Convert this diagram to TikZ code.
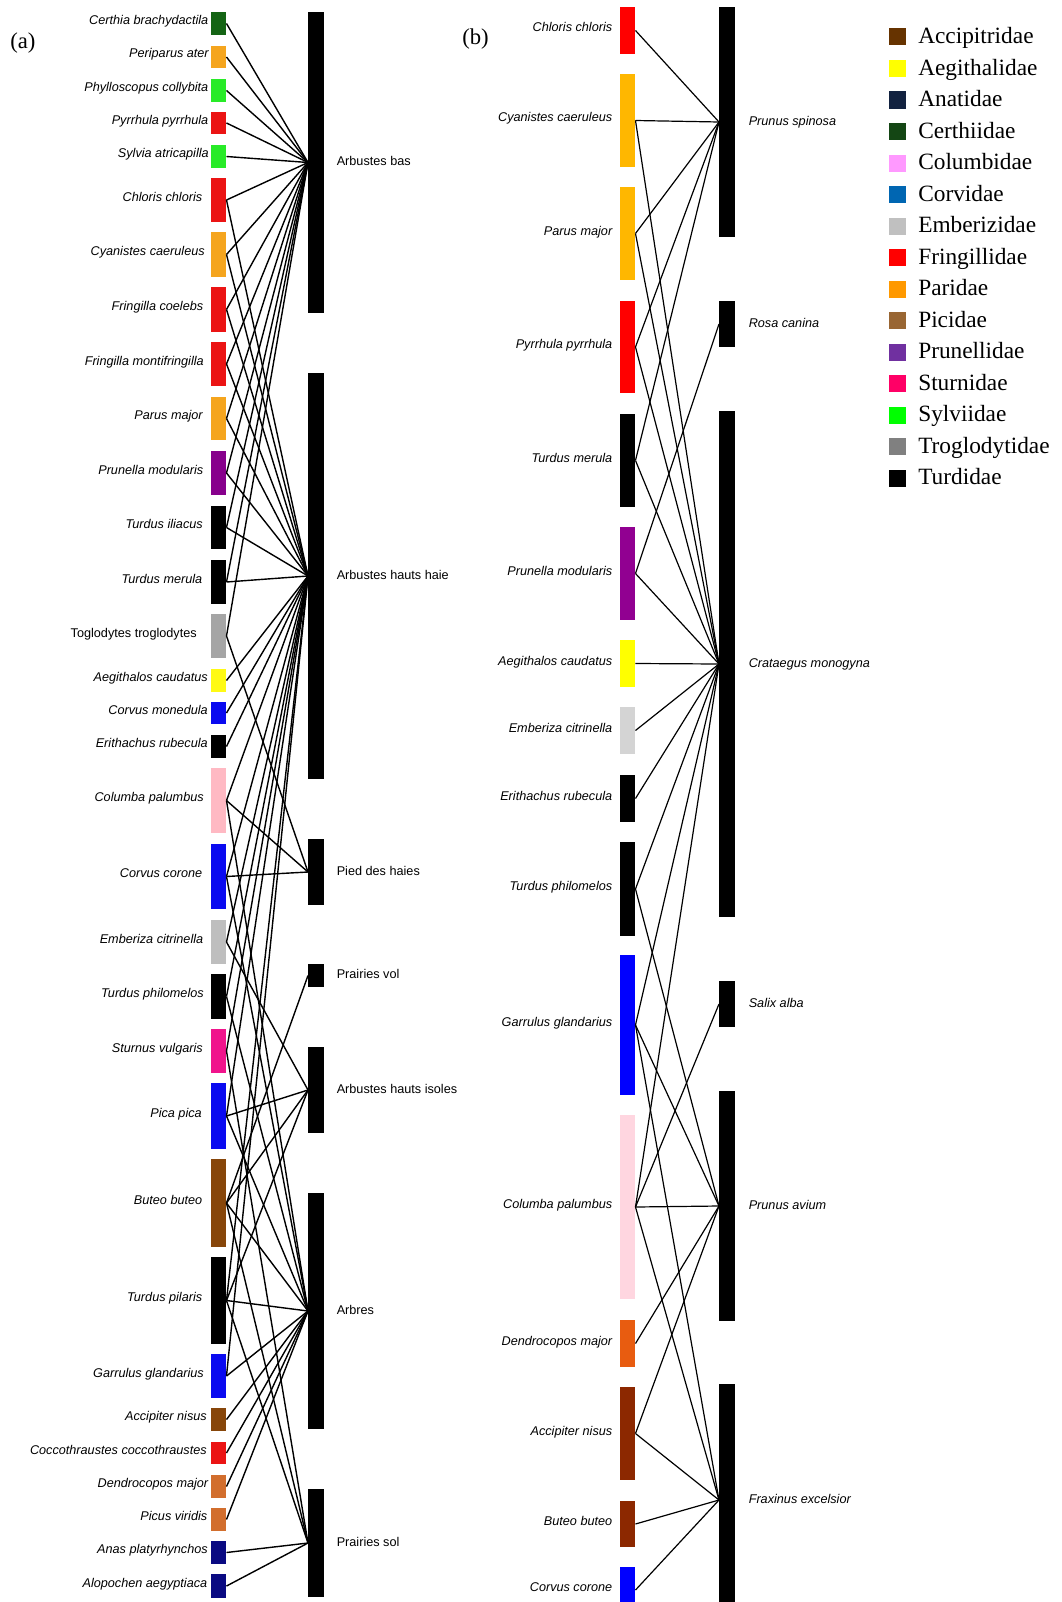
\documentclass[tikz,border=0pt]{standalone}
\usepackage{fontspec}
\setmainfont{Liberation Serif}
\newfontfamily\labfamily{Liberation Sans}
% panel (a) colours
\definecolor{dkgreenA}{RGB}{20,100,20}
\definecolor{orangeA}{RGB}{245,165,30}
\definecolor{greenA}{RGB}{40,235,40}
\definecolor{redA}{RGB}{235,20,20}
\definecolor{purpleA}{RGB}{135,0,140}
\definecolor{grayA}{RGB}{165,165,165}
\definecolor{yellowA}{RGB}{255,250,20}
\definecolor{blueA}{RGB}{10,10,240}
\definecolor{pinkA}{RGB}{255,185,195}
\definecolor{lgrayA}{RGB}{190,190,190}
\definecolor{dpinkA}{RGB}{240,20,140}
\definecolor{brownA}{RGB}{135,70,10}
\definecolor{chocA}{RGB}{210,110,45}
\definecolor{navyA}{RGB}{10,10,130}
% panel (b) colours
\definecolor{redB}{RGB}{255,0,0}
\definecolor{amberB}{RGB}{255,183,0}
\definecolor{purpleB}{RGB}{145,0,145}
\definecolor{yellowB}{RGB}{255,255,0}
\definecolor{lgrayB}{RGB}{212,212,212}
\definecolor{blueB}{RGB}{0,0,255}
\definecolor{pinkB}{RGB}{255,214,224}
\definecolor{orangeB}{RGB}{232,92,16}
\definecolor{brownB}{RGB}{140,40,0}
% legend colours
\definecolor{Lacc}{RGB}{102,51,0}
\definecolor{Laeg}{RGB}{255,255,0}
\definecolor{Lana}{RGB}{18,34,64}
\definecolor{Lcer}{RGB}{20,70,20}
\definecolor{Lcol}{RGB}{255,153,255}
\definecolor{Lcor}{RGB}{0,102,178}
\definecolor{Lemb}{RGB}{192,192,192}
\definecolor{Lfri}{RGB}{255,0,0}
\definecolor{Lpar}{RGB}{255,153,0}
\definecolor{Lpic}{RGB}{153,102,51}
\definecolor{Lpru}{RGB}{112,48,160}
\definecolor{Lstu}{RGB}{255,0,102}
\definecolor{Lsyl}{RGB}{0,255,0}
\definecolor{Ltro}{RGB}{128,128,128}
\definecolor{Ltur}{RGB}{0,0,0}

\tikzset{
  sbox/.style={rectangle,inner sep=0pt,outer sep=0pt,minimum width=11.6pt},
  hbox/.style={rectangle,fill=black,inner sep=0pt,outer sep=0pt,minimum width=12pt},
  slab/.style={inner sep=0pt,font=\labfamily\fontsize{9.5}{11}\selectfont\itshape},
  hlab/.style={inner sep=0pt,font=\labfamily\fontsize{9.5}{11}\selectfont},
  hlabb/.style={inner sep=0pt,font=\labfamily\fontsize{9.5}{11}\selectfont\itshape},
  edgeA/.style={line width=1.05pt,black},
  edgeB/.style={line width=0.9pt,black},
  legsq/.style={rectangle,inner sep=0pt,outer sep=0pt,minimum size=12.75pt},
  leglab/.style={inner sep=0pt,font=\fontsize{17.5}{20}\selectfont},
  panlab/.style={inner sep=0pt,font=\fontsize{17}{20}\selectfont},
}
% species box panel (a): id, top, bottom, colour, label x, label
\newcommand{\SpA}[6]{%
  \node[sbox,fill=#4,minimum height={(#3-#2)*0.75pt}] (#1) at (218.75,{(#2+#3)/2}) {};
  \node[slab,anchor=base east] (#1l) at (#5,{(#2+#3)/2+1}) {#6};}
% habitat box panel (a): id, top, bottom, label
\newcommand{\HabA}[4]{%
  \node[hbox,minimum height={(#3-#2)*0.75pt}] (#1) at (316,{(#2+#3)/2}) {};
  \node[hlab,anchor=base west] (#1l) at (336.5,{(#2+#3)/2+3}) {#4};}
% species box panel (b)
\newcommand{\SpB}[5]{%
  \node[sbox,fill=#4,minimum height={(#3-#2)*0.75pt}] (#1) at (627.75,{(#2+#3)/2}) {};
  \node[slab,anchor=base east] (#1l) at (612.5,{(#2+#3)/2+1.5}) {#5};}
% habitat box panel (b)
\newcommand{\HabB}[4]{%
  \node[hbox,minimum height={(#3-#2)*0.75pt}] (#1) at (727,{(#2+#3)/2}) {};
  \node[hlabb,anchor=base west] (#1l) at (748.5,{(#2+#3)/2+3}) {#4};}
% legend row: id, index, colour, label
\newcommand{\LegRow}[4]{%
  \node[legsq,fill=#3] (#1) at (897.5,{37+31.5*#2}) {};
  \node[leglab,anchor=base west] (#1l) at (918,{37+31.5*#2+6.5}) {#4};}

\begin{document}
\begin{tikzpicture}[x=0.75pt,y=-0.75pt]
\useasboundingbox (0,0) rectangle (1061,1602);
\clip (0,0) rectangle (1061,1602);

\node[panlab,anchor=base west] (pa) at (10,49) {(a)};
\node[panlab,anchor=base west] (pb) at (462,45) {(b)};

% ---------------- panel (a) ----------------
\SpA{a1}{12}{35}{dkgreenA}{208.5}{Certhia brachydactila}
\SpA{a2}{46}{68}{orangeA}{209}{Periparus ater}
\SpA{a3}{79}{102}{greenA}{208.5}{Phylloscopus collybita}
\SpA{a4}{112}{134}{redA}{208.5}{Pyrrhula pyrrhula}
\SpA{a5}{145}{168}{greenA}{209}{Sylvia atricapilla}
\SpA{a6}{178}{222}{redA}{202.5}{Chloris chloris}
\SpA{a7}{232}{277}{orangeA}{205}{Cyanistes caeruleus}
\SpA{a8}{287}{332}{redA}{203.5}{Fringilla coelebs}
\SpA{a9}{342}{386}{redA}{204}{Fringilla montifringilla}
\SpA{a10}{397}{440}{orangeA}{203}{Parus major}
\SpA{a11}{451}{495}{purpleA}{203.5}{Prunella modularis}
\SpA{a12}{506}{549}{black}{203}{Turdus iliacus}
\SpA{a13}{560}{604}{black}{202.5}{Turdus merula}
\SpA{a14}{614}{658}{grayA}{197}{\upshape Toglodytes troglodytes}
\SpA{a15}{669}{692}{yellowA}{208}{Aegithalos caudatus}
\SpA{a16}{702}{724}{blueA}{208}{Corvus monedula}
\SpA{a17}{735}{758}{black}{208}{Erithachus rubecula}
\SpA{a18}{768}{833}{pinkA}{204}{Columba palumbus}
\SpA{a19}{844}{909}{blueA}{202.5}{Corvus corone}
\SpA{a20}{920}{964}{lgrayA}{203.5}{Emberiza citrinella}
\SpA{a21}{974}{1019}{black}{204}{Turdus philomelos}
\SpA{a22}{1029}{1073}{dpinkA}{203}{Sturnus vulgaris}
\SpA{a23}{1083}{1149}{blueA}{202}{Pica pica}
\SpA{a24}{1159}{1247}{brownA}{202.5}{Buteo buteo}
\SpA{a25}{1257}{1344}{black}{202.5}{Turdus pilaris}
\SpA{a26}{1354}{1398}{blueA}{204}{Garrulus glandarius}
\SpA{a27}{1408}{1431}{brownA}{207}{Accipiter nisus}
\SpA{a28}{1442}{1464}{redA}{207}{Coccothraustes coccothraustes}
\SpA{a29}{1475}{1498}{chocA}{208.5}{Dendrocopos major}
\SpA{a30}{1508}{1531}{chocA}{207.5}{Picus viridis}
\SpA{a31}{1541}{1564}{navyA}{208}{Anas platyrhynchos}
\SpA{a32}{1574}{1598}{navyA}{207.5}{Alopochen aegyptiaca}

\HabA{AB}{12}{313}{Arbustes bas}
\HabA{AHH}{373}{779}{Arbustes hauts haie}
\HabA{PD}{839}{905}{Pied des haies}
\HabA{PV}{964}{987}{Prairies vol}
\HabA{AHI}{1047}{1133}{Arbustes hauts isoles}
\HabA{AR}{1193}{1429}{Arbres}
\HabA{PS}{1489}{1597}{Prairies sol}

\foreach \s/\h in {a1/AB,a2/AB,a3/AB,a4/AB,a5/AB,
  a6/AB,a6/AHH,a7/AB,a7/AHH,a8/AB,a8/AHH,a9/AB,a9/AHH,
  a10/AB,a10/AHH,a11/AB,a11/AHH,a12/AB,a12/AHH,a13/AB,a13/AHH,
  a14/AB,a14/PD,a15/AHH,a16/AHH,a17/AHH,
  a18/AHH,a18/PD,a18/AR,a19/AHH,a19/PD,a19/AR,
  a20/AHH,a20/AHI,a21/AHH,a21/AR,a22/AHH,a22/PS,
  a23/AHH,a23/AHI,a23/AR,a24/PV,a24/AHI,a24/AR,a24/PS,
  a25/AHH,a25/AHI,a25/AR,a25/PS,a26/AHH,a26/AR,
  a27/AR,a28/AR,a29/AR,a30/AR,a31/PS,a32/PS}
  \draw[edgeA] (\s.east) -- (\h.west);

% ---------------- panel (b) ----------------
\SpB{b1}{7}{54}{redB}{Chloris chloris}
\SpB{b2}{74}{167}{amberB}{Cyanistes caeruleus}
\SpB{b3}{187}{280}{amberB}{Parus major}
\SpB{b4}{301}{393}{redB}{Pyrrhula pyrrhula}
\SpB{b5}{414}{507}{black}{Turdus merula}
\SpB{b6}{527}{620}{purpleB}{Prunella modularis}
\SpB{b7}{640}{687}{yellowB}{Aegithalos caudatus}
\SpB{b8}{707}{754}{lgrayB}{Emberiza citrinella}
\SpB{b9}{775}{822}{black}{Erithachus rubecula}
\SpB{b10}{842}{936}{black}{Turdus philomelos}
\SpB{b11}{955}{1095}{blueB}{Garrulus glandarius}
\SpB{b12}{1115}{1299}{pinkB}{Columba palumbus}
\SpB{b13}{1320}{1367}{orangeB}{Dendrocopos major}
\SpB{b14}{1387}{1480}{brownB}{Accipiter nisus}
\SpB{b15}{1501}{1547}{brownB}{Buteo buteo}
\SpB{b16}{1567}{1613}{blueB}{Corvus corone}

\HabB{PSP}{7}{237}{Prunus spinosa}
\HabB{ROS}{301}{347}{Rosa canina}
\HabB{CRA}{411}{917}{Crataegus monogyna}
\HabB{SAL}{981}{1027}{Salix alba}
\HabB{PAV}{1091}{1321}{Prunus avium}
\HabB{FRA}{1384}{1616}{Fraxinus excelsior}

\foreach \s/\h in {b1/PSP,b2/PSP,b2/CRA,b3/PSP,b3/CRA,b4/PSP,b4/CRA,
  b5/PSP,b5/CRA,b6/ROS,b6/CRA,b7/CRA,b8/CRA,b9/CRA,
  b10/CRA,b10/PAV,b11/CRA,b11/PAV,b11/FRA,
  b12/CRA,b12/SAL,b12/PAV,b12/FRA,b13/PAV,b14/PAV,b14/FRA,
  b15/FRA,b16/FRA}
  \draw[edgeB] (\s.east) -- (\h.west);

% ---------------- legend ----------------
\LegRow{l0}{0}{Lacc}{Accipitridae}
\LegRow{l1}{1}{Laeg}{Aegithalidae}
\LegRow{l2}{2}{Lana}{Anatidae}
\LegRow{l3}{3}{Lcer}{Certhiidae}
\LegRow{l4}{4}{Lcol}{Columbidae}
\LegRow{l5}{5}{Lcor}{Corvidae}
\LegRow{l6}{6}{Lemb}{Emberizidae}
\LegRow{l7}{7}{Lfri}{Fringillidae}
\LegRow{l8}{8}{Lpar}{Paridae}
\LegRow{l9}{9}{Lpic}{Picidae}
\LegRow{l10}{10}{Lpru}{Prunellidae}
\LegRow{l11}{11}{Lstu}{Sturnidae}
\LegRow{l12}{12}{Lsyl}{Sylviidae}
\LegRow{l13}{13}{Ltro}{Troglodytidae}
\LegRow{l14}{14}{Ltur}{Turdidae}
\end{tikzpicture}
\end{document}
